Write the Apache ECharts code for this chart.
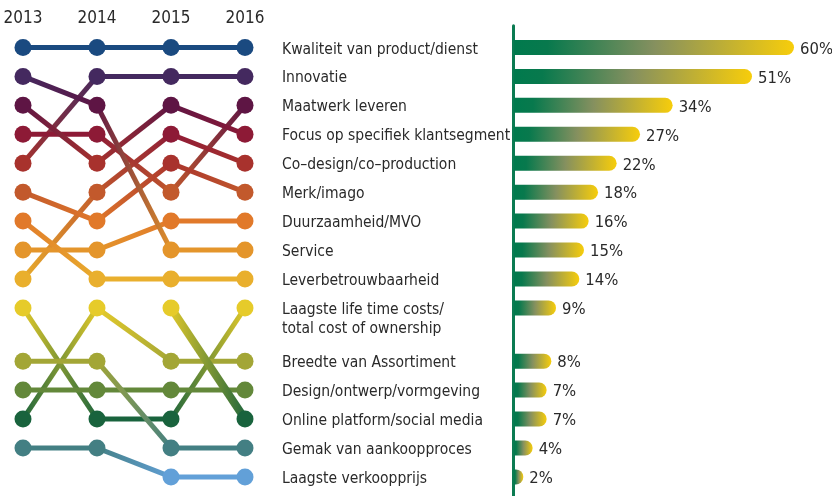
<!DOCTYPE html>
<html>
<head>
<meta charset="utf-8">
<script src="https://cdn.jsdelivr.net/npm/echarts@6/dist/echarts.min.js"></script>
<style>
  html, body { margin: 0; background: #fff; }
  #chart { width: 832px; height: 496px; }
</style>
</head>
<body>
<div id="chart"></div>
<script>
// data
const years = ['2013', '2014', '2015', '2016'];
const items = [
  'Kwaliteit van product/dienst',
  'Innovatie',
  'Maatwerk leveren',
  'Focus op specifiek klantsegment',
  'Co–design/co–production',
  'Merk/imago',
  'Duurzaamheid/MVO',
  'Service',
  'Leverbetrouwbaarheid',
  'Laagste life time costs/\ntotal cost of ownership',
  'Breedte van Assortiment',
  'Design/ontwerp/vormgeving',
  'Online platform/social media',
  'Gemak van aankoopproces',
  'Laagste verkoopprijs'
];
const share2016 = [60, 51, 34, 27, 22, 18, 16, 15, 14, 9, 8, 7, 7, 4, 2];
const rank2013 = [1, 5, 4, 3, 9, 6, 8, 2, 7, 10, 13, 12, null, 11, 14];
const rank2014 = [1, 2, 4, 5, 6, 7, 8, 3, 9, 13, 10, 12, null, 11, 14];
const rank2015 = [1, 2, 6, 3, 4, 5, 7, 8, 9, 13, 11, 12, 10, 14, 15];
const rank2016 = [1, 2, 3, 4, 5, 6, 7, 8, 9, 10, 11, 12, 13, 14, 15];

// colour of each rank position
const rankColors = [
  '#1a4a80', '#44295f', '#5e1544', '#8d1a36', '#a8322d',
  '#c2592c', '#e1792a', '#e4952b', '#e9af2d', '#e6cb2a',
  '#a3a636', '#63883a', '#19633d', '#437f83', '#62a0d8'
];

const font = '"DejaVu Sans Condensed", "Roboto", sans-serif';
const textColor = '#2a2a2a';
const ranks = [rank2013, rank2014, rank2015, rank2016];

// two-line label after rank 10 pushes the rest down
function rowPos(r) {
  return r <= 10 ? r : r + 0.84;
}

const chart = echarts.init(document.getElementById('chart'));

const series = [];
items.forEach(function (name, i) {
  for (let y = 0; y < 3; y++) {
    const a = ranks[y][i];
    const b = ranks[y + 1][i];
    if (a == null || b == null) continue;
    series.push({
      type: 'line',
      xAxisIndex: 0,
      yAxisIndex: 0,
      silent: true,
      showSymbol: false,
      z: 2,
      data: [[years[y], rowPos(a)], [years[y + 1], rowPos(b)]],
      lineStyle: {
        width: name.indexOf('Online') === 0 ? 8 : 5,
        opacity: 1,
        color: new echarts.graphic.LinearGradient(0, 0, 1, 0, [
          { offset: 0, color: rankColors[a - 1] },
          { offset: 1, color: rankColors[b - 1] }
        ])
      }
    });
  }
});

const dots = [];
ranks.forEach(function (col, y) {
  col.forEach(function (r) {
    if (r == null) return;
    dots.push({ value: [years[y], rowPos(r)], itemStyle: { color: rankColors[r - 1], opacity: 1 } });
  });
});

series.push({
  type: 'scatter',
  xAxisIndex: 0,
  yAxisIndex: 0,
  symbolSize: 17,
  z: 5,
  itemStyle: { opacity: 1 },
  data: dots
});

const barFill = {
  type: 'linear', x: 0, y: 0, x2: 1, y2: 0,
  colorStops: [
    { offset: 0, color: '#007a4d' },
    { offset: 0.12, color: '#08794d' },
    { offset: 0.5, color: '#85905f' },
    { offset: 1, color: '#f7cd0b' }
  ]
};

function renderBar(params, api) {
  const i = params.dataIndex;
  const base = api.coord([0, api.value(1)]);
  const tip = api.coord([api.value(0), api.value(1)]);
  const h = 15;
  const twoLine = items[i].indexOf('\n') >= 0;
  return {
    type: 'group',
    children: [
      {
        type: 'rect',
        shape: { x: base[0] + 1, y: base[1] - h / 2, width: tip[0] - base[0], height: h, r: [0, h / 2, h / 2, 0] },
        style: { fill: barFill }
      },
      {
        type: 'text',
        x: tip[0] + 7,
        y: base[1] + 2,
        style: { text: api.value(0) + '%', fill: textColor, fontSize: 16.5, fontFamily: font, verticalAlign: 'middle' }
      },
      {
        type: 'text',
        x: base[0] - 231,
        y: twoLine ? base[1] - 7 : base[1] + 2,
        style: {
          text: items[i], fill: textColor, fontSize: 15.5, fontFamily: font, lineHeight: 19,
          verticalAlign: twoLine ? 'top' : 'middle'
        }
      }
    ]
  };
}

series.push({
  type: 'custom',
  xAxisIndex: 1,
  yAxisIndex: 1,
  renderItem: renderBar,
  data: items.map(function (n, i) {
    return [share2016[i], rowPos(rank2016[i])];
  })
});

const option = {
  animation: false,
  grid: [
    { left: 23, right: 587, top: 33, bottom: 0 },
    { left: 513, right: 39, top: 25.8, bottom: 0 }
  ],
  xAxis: [
    {
      gridIndex: 0,
      type: 'category',
      position: 'top',
      boundaryGap: false,
      data: years,
      axisLine: { show: false },
      axisTick: { show: false },
      splitLine: { show: false },
      axisLabel: { color: textColor, fontSize: 17, fontFamily: font, margin: 6 }
    },
    { gridIndex: 1, type: 'value', min: 0, max: 60, show: false }
  ],
  yAxis: [
    { gridIndex: 0, type: 'value', inverse: true, min: 0.5, max: 16.5, show: false },
    {
      gridIndex: 1,
      type: 'value',
      inverse: true,
      min: 0.25,
      max: 16.5,
      axisLine: { show: true, lineStyle: { color: '#0b7b52', width: 3 } },
      axisTick: { show: false },
      axisLabel: { show: false },
      splitLine: { show: false }
    }
  ],
  series: series
};

chart.setOption(option);
</script>
</body>
</html>
